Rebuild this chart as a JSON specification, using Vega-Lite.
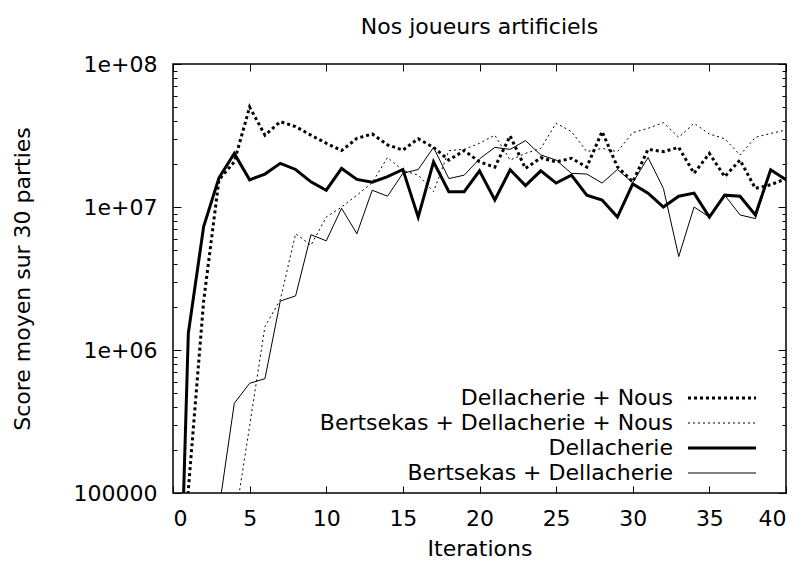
{
  "$schema": "https://vega.github.io/schema/vega-lite/v6.json",
  "width": 613,
  "height": 429,
  "autosize": {"type": "none"},
  "padding": {"left": 173, "top": 64, "right": 20, "bottom": 74},
  "background": "white",
  "title": {"text": "Nos joueurs artificiels", "fontSize": 22, "font": "DejaVu Sans", "fontWeight": "normal", "color": "black", "anchor": "middle", "offset": 14},
  "config": {
    "view": {"stroke": "black", "strokeWidth": 1.5},
    "font": "DejaVu Sans",
    "axis": {"labelFont": "DejaVu Sans", "titleFont": "DejaVu Sans", "labelColor": "black", "titleColor": "black", "tickColor": "black", "grid": false, "domain": false, "titleFontWeight": "normal"}
  },
  "data": {"values": [
    {"x": 0, "series": "Dellacherie + Nous", "score": 300},
    {"x": 1, "series": "Dellacherie + Nous", "score": 105000},
    {"x": 2, "series": "Dellacherie + Nous", "score": 2200000},
    {"x": 3, "series": "Dellacherie + Nous", "score": 15500000},
    {"x": 4, "series": "Dellacherie + Nous", "score": 20700000},
    {"x": 5, "series": "Dellacherie + Nous", "score": 50000000},
    {"x": 6, "series": "Dellacherie + Nous", "score": 31800000},
    {"x": 7, "series": "Dellacherie + Nous", "score": 39500000},
    {"x": 8, "series": "Dellacherie + Nous", "score": 36500000},
    {"x": 9, "series": "Dellacherie + Nous", "score": 31800000},
    {"x": 10, "series": "Dellacherie + Nous", "score": 27900000},
    {"x": 11, "series": "Dellacherie + Nous", "score": 24800000},
    {"x": 12, "series": "Dellacherie + Nous", "score": 30200000},
    {"x": 13, "series": "Dellacherie + Nous", "score": 32400000},
    {"x": 14, "series": "Dellacherie + Nous", "score": 27200000},
    {"x": 15, "series": "Dellacherie + Nous", "score": 25000000},
    {"x": 16, "series": "Dellacherie + Nous", "score": 30000000},
    {"x": 17, "series": "Dellacherie + Nous", "score": 26100000},
    {"x": 18, "series": "Dellacherie + Nous", "score": 21300000},
    {"x": 19, "series": "Dellacherie + Nous", "score": 24800000},
    {"x": 20, "series": "Dellacherie + Nous", "score": 20700000},
    {"x": 21, "series": "Dellacherie + Nous", "score": 19000000},
    {"x": 22, "series": "Dellacherie + Nous", "score": 31400000},
    {"x": 23, "series": "Dellacherie + Nous", "score": 18600000},
    {"x": 24, "series": "Dellacherie + Nous", "score": 22100000},
    {"x": 25, "series": "Dellacherie + Nous", "score": 20700000},
    {"x": 26, "series": "Dellacherie + Nous", "score": 21900000},
    {"x": 27, "series": "Dellacherie + Nous", "score": 19000000},
    {"x": 28, "series": "Dellacherie + Nous", "score": 33700000},
    {"x": 29, "series": "Dellacherie + Nous", "score": 19100000},
    {"x": 30, "series": "Dellacherie + Nous", "score": 15000000},
    {"x": 31, "series": "Dellacherie + Nous", "score": 25300000},
    {"x": 32, "series": "Dellacherie + Nous", "score": 24400000},
    {"x": 33, "series": "Dellacherie + Nous", "score": 26100000},
    {"x": 34, "series": "Dellacherie + Nous", "score": 17200000},
    {"x": 35, "series": "Dellacherie + Nous", "score": 23700000},
    {"x": 36, "series": "Dellacherie + Nous", "score": 16300000},
    {"x": 37, "series": "Dellacherie + Nous", "score": 21300000},
    {"x": 38, "series": "Dellacherie + Nous", "score": 13500000},
    {"x": 39, "series": "Dellacherie + Nous", "score": 14300000},
    {"x": 40, "series": "Dellacherie + Nous", "score": 15800000},

    {"x": 4, "series": "Bertsekas + Dellacherie + Nous", "score": 60000},
    {"x": 5, "series": "Bertsekas + Dellacherie + Nous", "score": 295000},
    {"x": 6, "series": "Bertsekas + Dellacherie + Nous", "score": 1460000},
    {"x": 7, "series": "Bertsekas + Dellacherie + Nous", "score": 2240000},
    {"x": 8, "series": "Bertsekas + Dellacherie + Nous", "score": 6500000},
    {"x": 9, "series": "Bertsekas + Dellacherie + Nous", "score": 5400000},
    {"x": 10, "series": "Bertsekas + Dellacherie + Nous", "score": 8500000},
    {"x": 11, "series": "Bertsekas + Dellacherie + Nous", "score": 10000000},
    {"x": 12, "series": "Bertsekas + Dellacherie + Nous", "score": 12100000},
    {"x": 13, "series": "Bertsekas + Dellacherie + Nous", "score": 14800000},
    {"x": 14, "series": "Bertsekas + Dellacherie + Nous", "score": 22200000},
    {"x": 15, "series": "Bertsekas + Dellacherie + Nous", "score": 18000000},
    {"x": 16, "series": "Bertsekas + Dellacherie + Nous", "score": 16700000},
    {"x": 17, "series": "Bertsekas + Dellacherie + Nous", "score": 12800000},
    {"x": 18, "series": "Bertsekas + Dellacherie + Nous", "score": 24800000},
    {"x": 19, "series": "Bertsekas + Dellacherie + Nous", "score": 25300000},
    {"x": 20, "series": "Bertsekas + Dellacherie + Nous", "score": 27900000},
    {"x": 21, "series": "Bertsekas + Dellacherie + Nous", "score": 31800000},
    {"x": 22, "series": "Bertsekas + Dellacherie + Nous", "score": 21300000},
    {"x": 23, "series": "Bertsekas + Dellacherie + Nous", "score": 23700000},
    {"x": 24, "series": "Bertsekas + Dellacherie + Nous", "score": 25700000},
    {"x": 25, "series": "Bertsekas + Dellacherie + Nous", "score": 38500000},
    {"x": 26, "series": "Bertsekas + Dellacherie + Nous", "score": 33700000},
    {"x": 27, "series": "Bertsekas + Dellacherie + Nous", "score": 24400000},
    {"x": 28, "series": "Bertsekas + Dellacherie + Nous", "score": 25700000},
    {"x": 29, "series": "Bertsekas + Dellacherie + Nous", "score": 24400000},
    {"x": 30, "series": "Bertsekas + Dellacherie + Nous", "score": 33100000},
    {"x": 31, "series": "Bertsekas + Dellacherie + Nous", "score": 35500000},
    {"x": 32, "series": "Bertsekas + Dellacherie + Nous", "score": 38900000},
    {"x": 33, "series": "Bertsekas + Dellacherie + Nous", "score": 30700000},
    {"x": 34, "series": "Bertsekas + Dellacherie + Nous", "score": 38500000},
    {"x": 35, "series": "Bertsekas + Dellacherie + Nous", "score": 32400000},
    {"x": 36, "series": "Bertsekas + Dellacherie + Nous", "score": 30000000},
    {"x": 37, "series": "Bertsekas + Dellacherie + Nous", "score": 23100000},
    {"x": 38, "series": "Bertsekas + Dellacherie + Nous", "score": 30700000},
    {"x": 39, "series": "Bertsekas + Dellacherie + Nous", "score": 32700000},
    {"x": 40, "series": "Bertsekas + Dellacherie + Nous", "score": 34500000},

    {"x": 0, "series": "Dellacherie", "score": 300},
    {"x": 1, "series": "Dellacherie", "score": 1310000},
    {"x": 2, "series": "Dellacherie", "score": 7300000},
    {"x": 3, "series": "Dellacherie", "score": 16000000},
    {"x": 4, "series": "Dellacherie", "score": 23700000},
    {"x": 5, "series": "Dellacherie", "score": 15500000},
    {"x": 6, "series": "Dellacherie", "score": 17000000},
    {"x": 7, "series": "Dellacherie", "score": 20200000},
    {"x": 8, "series": "Dellacherie", "score": 18300000},
    {"x": 9, "series": "Dellacherie", "score": 15000000},
    {"x": 10, "series": "Dellacherie", "score": 13100000},
    {"x": 11, "series": "Dellacherie", "score": 18600000},
    {"x": 12, "series": "Dellacherie", "score": 15600000},
    {"x": 13, "series": "Dellacherie", "score": 14900000},
    {"x": 14, "series": "Dellacherie", "score": 16300000},
    {"x": 15, "series": "Dellacherie", "score": 18300000},
    {"x": 16, "series": "Dellacherie", "score": 8500000},
    {"x": 17, "series": "Dellacherie", "score": 20700000},
    {"x": 18, "series": "Dellacherie", "score": 12800000},
    {"x": 19, "series": "Dellacherie", "score": 12800000},
    {"x": 20, "series": "Dellacherie", "score": 17900000},
    {"x": 21, "series": "Dellacherie", "score": 11200000},
    {"x": 22, "series": "Dellacherie", "score": 18200000},
    {"x": 23, "series": "Dellacherie", "score": 14100000},
    {"x": 24, "series": "Dellacherie", "score": 17900000},
    {"x": 25, "series": "Dellacherie", "score": 14700000},
    {"x": 26, "series": "Dellacherie", "score": 16700000},
    {"x": 27, "series": "Dellacherie", "score": 12100000},
    {"x": 28, "series": "Dellacherie", "score": 11200000},
    {"x": 29, "series": "Dellacherie", "score": 8500000},
    {"x": 30, "series": "Dellacherie", "score": 14500000},
    {"x": 31, "series": "Dellacherie", "score": 12500000},
    {"x": 32, "series": "Dellacherie", "score": 10000000},
    {"x": 33, "series": "Dellacherie", "score": 11900000},
    {"x": 34, "series": "Dellacherie", "score": 12500000},
    {"x": 35, "series": "Dellacherie", "score": 8500000},
    {"x": 36, "series": "Dellacherie", "score": 12100000},
    {"x": 37, "series": "Dellacherie", "score": 11900000},
    {"x": 38, "series": "Dellacherie", "score": 8800000},
    {"x": 39, "series": "Dellacherie", "score": 18200000},
    {"x": 40, "series": "Dellacherie", "score": 15500000},

    {"x": 3, "series": "Bertsekas + Dellacherie", "score": 77000},
    {"x": 4, "series": "Bertsekas + Dellacherie", "score": 424000},
    {"x": 5, "series": "Bertsekas + Dellacherie", "score": 585000},
    {"x": 6, "series": "Bertsekas + Dellacherie", "score": 630000},
    {"x": 7, "series": "Bertsekas + Dellacherie", "score": 2200000},
    {"x": 8, "series": "Bertsekas + Dellacherie", "score": 2390000},
    {"x": 9, "series": "Bertsekas + Dellacherie", "score": 6400000},
    {"x": 10, "series": "Bertsekas + Dellacherie", "score": 5800000},
    {"x": 11, "series": "Bertsekas + Dellacherie", "score": 9800000},
    {"x": 12, "series": "Bertsekas + Dellacherie", "score": 6500000},
    {"x": 13, "series": "Bertsekas + Dellacherie", "score": 13100000},
    {"x": 14, "series": "Bertsekas + Dellacherie", "score": 11900000},
    {"x": 15, "series": "Bertsekas + Dellacherie", "score": 17200000},
    {"x": 16, "series": "Bertsekas + Dellacherie", "score": 18300000},
    {"x": 17, "series": "Bertsekas + Dellacherie", "score": 26100000},
    {"x": 18, "series": "Bertsekas + Dellacherie", "score": 15800000},
    {"x": 19, "series": "Bertsekas + Dellacherie", "score": 16700000},
    {"x": 20, "series": "Bertsekas + Dellacherie", "score": 21700000},
    {"x": 21, "series": "Bertsekas + Dellacherie", "score": 26100000},
    {"x": 22, "series": "Bertsekas + Dellacherie", "score": 25300000},
    {"x": 23, "series": "Bertsekas + Dellacherie", "score": 29100000},
    {"x": 24, "series": "Bertsekas + Dellacherie", "score": 23100000},
    {"x": 25, "series": "Bertsekas + Dellacherie", "score": 21300000},
    {"x": 26, "series": "Bertsekas + Dellacherie", "score": 17200000},
    {"x": 27, "series": "Bertsekas + Dellacherie", "score": 17000000},
    {"x": 28, "series": "Bertsekas + Dellacherie", "score": 14700000},
    {"x": 29, "series": "Bertsekas + Dellacherie", "score": 18300000},
    {"x": 30, "series": "Bertsekas + Dellacherie", "score": 14800000},
    {"x": 31, "series": "Bertsekas + Dellacherie", "score": 22200000},
    {"x": 32, "series": "Bertsekas + Dellacherie", "score": 13500000},
    {"x": 33, "series": "Bertsekas + Dellacherie", "score": 4500000},
    {"x": 34, "series": "Bertsekas + Dellacherie", "score": 10000000},
    {"x": 35, "series": "Bertsekas + Dellacherie", "score": 8500000},
    {"x": 36, "series": "Bertsekas + Dellacherie", "score": 12100000},
    {"x": 37, "series": "Bertsekas + Dellacherie", "score": 8800000},
    {"x": 38, "series": "Bertsekas + Dellacherie", "score": 8300000},
    {"x": 39, "series": "Bertsekas + Dellacherie", "score": 18200000},
    {"x": 40, "series": "Bertsekas + Dellacherie", "score": 15500000}
  ]},
  "layer": [
    {
      "mark": {"type": "line", "clip": true, "color": "black", "strokeCap": "butt", "strokeJoin": "miter"},
      "encoding": {
        "x": {"field": "x", "type": "quantitative", "scale": {"domain": [0, 40], "nice": false, "zero": false},
          "axis": {"orient": "bottom", "values": [0, 5, 10, 15, 20, 25, 30, 35, 40], "format": "d", "labelFontSize": 22, "tickSize": -7, "tickWidth": 1, "labelPadding": 22, "title": "Iterations", "titleFontSize": 22, "titlePadding": 9}},
        "y": {"field": "score", "type": "quantitative", "scale": {"type": "log", "domain": [100000, 100000000], "nice": false},
          "axis": {"orient": "left",
            "values": [100000, 200000, 300000, 400000, 500000, 600000, 700000, 800000, 900000, 1000000, 2000000, 3000000, 4000000, 5000000, 6000000, 7000000, 8000000, 9000000, 10000000, 20000000, 30000000, 40000000, 50000000, 60000000, 70000000, 80000000, 90000000, 100000000],
            "labelExpr": "datum.value == 100000 ? '100000' : datum.value == 1000000 ? '1e+06' : datum.value == 10000000 ? '1e+07' : datum.value == 100000000 ? '1e+08' : ''",
            "labelFontSize": 22, "labelPadding": 24, "tickWidth": 1,
            "tickSize": {"condition": {"test": "datum.value == 100000 || datum.value == 1000000 || datum.value == 10000000 || datum.value == 100000000", "value": -8}, "value": -4},
            "title": "Score moyen sur 30 parties", "titleFontSize": 22, "titlePadding": 39}},
        "strokeDash": {"field": "series", "type": "nominal",
          "scale": {"domain": ["Dellacherie + Nous", "Bertsekas + Dellacherie + Nous", "Dellacherie", "Bertsekas + Dellacherie"], "range": [[3, 3], [2, 3], [], []]},
          "legend": {"title": null, "orient": "none", "legendX": 538, "legendY": 323, "symbolType": "M-4,0H4", "symbolSize": 289, "symbolStrokeColor": "black", "labelFontSize": 22, "labelFont": "DejaVu Sans", "labelColor": "black", "labelAlign": "right", "labelBaseline": "middle", "labelOffset": -60, "labelLimit": 600, "rowPadding": 3, "padding": 0}},
        "strokeWidth": {"field": "series", "type": "nominal",
          "scale": {"type": "ordinal", "domain": ["Dellacherie + Nous", "Bertsekas + Dellacherie + Nous", "Dellacherie", "Bertsekas + Dellacherie"], "range": [3, 1, 3, 1]},
          "legend": {"title": null, "orient": "none", "legendX": 538, "legendY": 323, "symbolType": "M-4,0H4", "symbolSize": 289, "symbolStrokeColor": "black", "labelFontSize": 22, "labelFont": "DejaVu Sans", "labelColor": "black", "labelAlign": "right", "labelBaseline": "middle", "labelOffset": -60, "labelLimit": 600, "rowPadding": 3, "padding": 0}}
      }
    },
    {
      "mark": {"type": "point", "opacity": 0},
      "encoding": {
        "x": {"field": "x", "type": "quantitative",
          "axis": {"orient": "top", "values": [0, 5, 10, 15, 20, 25, 30, 35, 40], "labels": false, "tickSize": -7, "tickWidth": 1, "title": null}},
        "y": {"field": "score", "type": "quantitative",
          "axis": {"orient": "right",
            "values": [100000, 200000, 300000, 400000, 500000, 600000, 700000, 800000, 900000, 1000000, 2000000, 3000000, 4000000, 5000000, 6000000, 7000000, 8000000, 9000000, 10000000, 20000000, 30000000, 40000000, 50000000, 60000000, 70000000, 80000000, 90000000, 100000000],
            "labels": false, "tickWidth": 1,
            "tickSize": {"condition": {"test": "datum.value == 100000 || datum.value == 1000000 || datum.value == 10000000 || datum.value == 100000000", "value": -8}, "value": -4},
            "title": null}}
      }
    }
  ],
  "resolve": {"axis": {"x": "independent", "y": "independent"}}
}
